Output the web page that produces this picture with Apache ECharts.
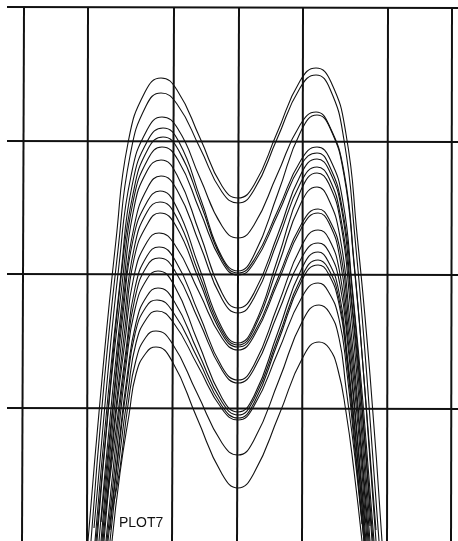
<!DOCTYPE html>
<html>
<head>
<meta charset="utf-8">
<script src="https://cdn.jsdelivr.net/npm/echarts@6/dist/echarts.min.js"></script>
<style>
  html, body { margin: 0; padding: 0; background: #fff; }
  #chart { width: 458px; height: 541px; }
</style>
</head>
<body>
<div id="chart"></div>
<script>
// grid line positions (scanned sheet, lines lean a little)
const xLinesTop = [24, 88, 174, 239, 303, 388, 452]
const xLinesBottom = [22, 87, 172, 237, 302, 387, 451]
const yLinesLeft = [7, 141, 274, 408]
const yLinesRight = [8, 142, 275, 409]
const plotLabel = 'PLOT7'

// curves, [x, y] (y counted downwards)
const curve1 = [[88,541],[102,379],[116,240],[128,143],[145,92],[161,78],[177,90],[200,138],[222,186],[238,198],[254,185],[277,133],[300,81],[316,68],[331,82],[346,134],[357,234],[370,375],[382,541]]
const curve2 = [[91,541],[104,384],[118,250],[130,156],[146,106],[161,93],[177,104],[200,148],[222,192],[238,203],[254,190],[277,139],[300,88],[316,75],[330,89],[344,140],[355,238],[367,378],[379,541]]
const curve3 = [[94,528],[106,393],[119,265],[131,176],[147,130],[162,117],[178,129],[200,178],[222,226],[238,238],[254,225],[277,175],[300,125],[316,112],[329,125],[344,172],[354,262],[365,391],[376,530]]
const curve4 = [[95,541],[108,396],[121,273],[132,186],[148,140],[163,128],[179,142],[201,200],[222,257],[238,271],[254,255],[278,193],[301,131],[317,115],[330,128],[344,175],[354,264],[365,392],[376,541]]
const curve5 = [[96,541],[109,400],[121,278],[133,194],[148,149],[163,137],[179,151],[201,205],[222,259],[238,273],[254,260],[278,210],[301,160],[317,147],[330,159],[343,202],[352,285],[363,403],[374,541]]
const curve6 = [[97,541],[109,403],[122,285],[133,202],[148,159],[162,147],[178,160],[200,211],[222,262],[238,275],[254,263],[278,214],[301,165],[317,153],[329,165],[342,207],[352,289],[362,405],[373,541]]
const curve7 = [[99,541],[111,408],[123,293],[133,213],[147,171],[161,160],[177,175],[200,234],[222,293],[238,308],[254,293],[278,234],[301,174],[317,159],[329,170],[342,212],[351,293],[362,407],[372,541]]
const curve8 = [[101,522],[112,413],[123,304],[134,227],[148,187],[161,176],[177,190],[200,245],[222,299],[238,313],[254,298],[278,240],[301,182],[317,167],[329,178],[341,219],[351,298],[361,410],[370,526]]
const curve9 = [[101,541],[112,419],[123,314],[133,240],[147,202],[160,191],[176,206],[199,267],[222,328],[238,343],[254,326],[278,258],[301,190],[317,173],[329,184],[341,225],[350,302],[360,412],[370,541]]
const curve10 = [[102,541],[113,422],[124,321],[134,249],[147,212],[160,202],[176,216],[199,274],[222,331],[238,345],[254,329],[278,266],[301,203],[317,187],[328,198],[340,237],[349,311],[359,417],[369,541]]
const curve11 = [[103,541],[114,426],[125,328],[134,259],[148,223],[160,213],[176,226],[199,280],[222,334],[238,347],[254,333],[278,278],[302,223],[318,209],[329,219],[341,255],[349,325],[359,425],[368,541]]
const curve12 = [[104,541],[114,433],[125,341],[134,276],[147,242],[159,233],[175,245],[199,292],[222,338],[238,350],[254,336],[278,282],[302,227],[318,213],[329,223],[340,259],[348,328],[358,426],[367,541]]
const curve13 = [[106,510],[115,438],[126,350],[135,288],[147,256],[159,247],[175,260],[199,314],[222,367],[238,380],[254,365],[278,305],[302,245],[318,230],[329,239],[340,274],[348,339],[357,432],[365,523]]
const curve14 = [[106,541],[116,442],[126,357],[135,298],[147,266],[159,258],[175,271],[199,321],[222,370],[238,383],[254,369],[278,313],[302,257],[318,243],[329,252],[340,285],[348,347],[357,437],[366,541]]
const curve15 = [[107,541],[117,447],[126,366],[135,309],[147,279],[158,271],[174,285],[198,342],[222,398],[238,412],[254,396],[278,332],[302,268],[318,252],[328,261],[339,292],[347,353],[356,440],[365,541]]
const curve16 = [[108,541],[118,452],[127,377],[136,323],[147,296],[158,288],[174,301],[198,352],[222,402],[238,415],[254,399],[278,338],[302,276],[318,260],[328,268],[339,299],[347,358],[356,443],[365,541]]
const curve17 = [[110,530],[118,457],[127,384],[135,334],[146,307],[157,300],[173,312],[198,359],[222,406],[238,418],[254,403],[278,342],[302,280],[318,265],[328,273],[339,304],[347,362],[355,444],[364,541]]
const curve18 = [[110,541],[119,461],[128,392],[136,343],[147,318],[157,311],[173,322],[198,366],[222,409],[238,420],[254,406],[278,352],[302,297],[318,283],[328,291],[339,319],[347,373],[355,451],[364,541]]
const curve19 = [[113,507],[120,468],[128,405],[136,360],[146,337],[156,331],[172,343],[197,393],[222,443],[238,455],[254,440],[279,380],[303,320],[319,305],[329,312],[339,338],[346,388],[355,458],[362,524]]
const curve20 = [[112,541],[120,473],[129,415],[136,374],[146,353],[156,347],[172,361],[197,418],[222,474],[238,488],[254,473],[279,415],[303,357],[319,342],[329,348],[338,370],[346,412],[354,471],[362,541]]

const curves = [curve1, curve2, curve3, curve4, curve5, curve6, curve7, curve8, curve9, curve10,
  curve11, curve12, curve13, curve14, curve15, curve16, curve17, curve18, curve19, curve20]

const chart = echarts.init(document.getElementById('chart'))

const gridLines = []
for (let i = 0; i < xLinesTop.length; i++) {
  gridLines.push({ coords: [[xLinesTop[i], 8], [xLinesBottom[i], 541]] })
}
for (let i = 0; i < yLinesLeft.length; i++) {
  gridLines.push({ coords: [[7, yLinesLeft[i]], [458, yLinesRight[i]]] })
}

const series = [{
  type: 'lines',
  coordinateSystem: 'cartesian2d',
  silent: true,
  lineStyle: { color: '#111', width: 2, opacity: 1 },
  data: gridLines
}]
curves.forEach(c => {
  series.push({
    type: 'line',
    data: c,
    smooth: true,
    symbol: 'none',
    silent: true,
    lineStyle: { color: '#111', width: 1.1 }
  })
})

chart.setOption({
  animation: false,
  backgroundColor: '#fff',
  grid: { left: 0, right: 0, top: 0, bottom: 0 },
  xAxis: { type: 'value', min: 0, max: 458, show: false },
  yAxis: { type: 'value', min: 0, max: 541, inverse: true, show: false },
  graphic: [{
    type: 'text',
    left: 119,
    top: 516,
    style: { text: plotLabel, font: '14px "Liberation Sans", Arial, sans-serif', fill: '#111' }
  }],
  series: series
})
</script>
</body>
</html>
